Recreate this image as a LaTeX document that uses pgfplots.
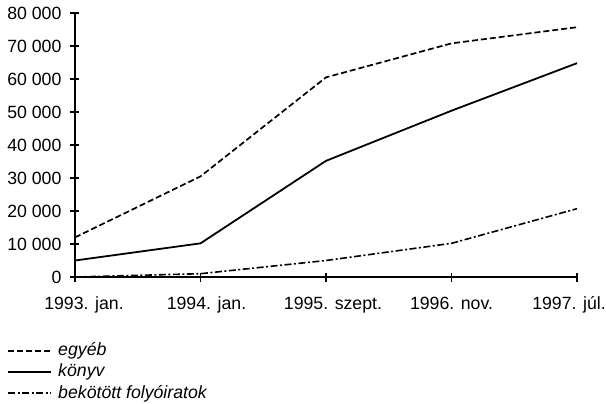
\documentclass[border=0pt]{standalone}
\usepackage{pgfplots}
\pgfplotsset{compat=1.18}
\usepackage{fontspec}
\setmainfont{Liberation Sans}
\newcommand{\sh}[2]{\makebox[0pt]{\kern#1bp #2}}
\begin{document}
\fontsize{17.7bp}{21bp}\selectfont
\begin{tikzpicture}[x=1bp,y=1bp]
\path[use as bounding box] (-75bp,-127bp) rectangle (531bp,277bp);
\begin{axis}[
  at={(0,0)}, anchor=south west,
  scale only axis,
  width=502bp, height=264bp,
  xmin=0, xmax=4, ymin=0, ymax=80000,
  axis x line=bottom, axis y line=left,
  axis line style={-, line width=1.5bp},
  every tick/.style={line width=1.3bp, black},
  tick align=center,
  major tick length=9bp,
  xtick={0,1,2,3,4},
  xticklabels={\sh{18}{1993. jan.},\sh{12}{1994. jan.},\sh{14}{1995. szept.},\sh{0}{1996. nov.},\sh{-16}{1997. júl.}},
  ytick={0,10000,20000,30000,40000,50000,60000,70000,80000},
  yticklabels={0,10 000,20 000,30 000,40 000,50 000,60 000,70 000,80 000},
  scaled y ticks=false,
  /pgf/number format/assume math mode=true,
  tick label style={font=\fontsize{17.7bp}{21bp}\selectfont},
  xticklabel style={yshift=-9bp, text height=12.5bp, text depth=4bp},
  yticklabel style={xshift=-3bp},
  clip=false,
  legend style={draw=none, fill=none, at={(-0.135,-0.245)}, anchor=north west,
    font=\fontsize{17.7bp}{20bp}\selectfont\itshape, row sep=3.5bp, column sep=5bp, inner sep=0pt,
    legend cell align=left, nodes={inner sep=1bp}},
  legend image code/.code={\draw[#1] (0bp,0bp) -- (43bp,0bp);},
]
\addplot[black, line width=1.7bp, dash pattern=on 6bp off 3bp] coordinates {(0,12000) (1,30500) (2,60500) (3,70800) (4,75700)};
\addlegendentry{egyéb}
\addplot[black, line width=1.8bp] coordinates {(0,5000) (1,10200) (2,35200) (3,50400) (4,64800)};
\addlegendentry{könyv}
\addplot[black, line width=1.6bp, dash pattern=on 7bp off 2.5bp on 2bp off 2.5bp] coordinates {(0,0) (1,1000) (2,5000) (3,10200) (4,20700)};
\addlegendentry{bekötött folyóiratok}
\end{axis}
\end{tikzpicture}
\end{document}
